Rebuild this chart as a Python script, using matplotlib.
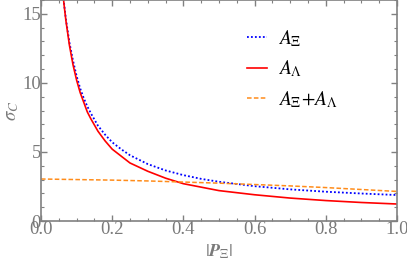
import numpy as np
import matplotlib
matplotlib.use("Agg")
import matplotlib.pyplot as plt
from matplotlib.ticker import MultipleLocator

# values
p_xi = [0.06, 0.065, 0.07, 0.08, 0.09, 0.10, 0.11, 0.12, 0.13, 0.14, 0.16, 0.18,
        0.20, 0.225, 0.25, 0.30, 0.35, 0.40, 0.45, 0.50, 0.60, 0.70, 0.80, 0.90, 1.00]
a_xi = [16.9, 15.7, 14.6, 12.9, 11.6, 10.5, 9.6, 8.9, 8.3, 7.8, 6.9, 6.25,
        5.7, 5.2, 4.76, 4.12, 3.66, 3.32, 3.05, 2.84, 2.52, 2.29, 2.12, 1.99, 1.88]
a_lam = [16.9, 15.6, 14.5, 12.7, 11.3, 10.2, 9.3, 8.6, 7.9, 7.4, 6.5, 5.8,
         5.2, 4.7, 4.2, 3.6, 3.1, 2.7, 2.45, 2.2, 1.9, 1.66, 1.48, 1.34, 1.23]
p_sum = [0.0, 0.1, 0.2, 0.3, 0.4, 0.5, 0.6, 0.7, 0.8, 0.9, 1.0]
a_sum = [3.04, 3.00, 2.96, 2.90, 2.82, 2.74, 2.64, 2.54, 2.42, 2.28, 2.14]

plt.rcParams["font.family"] = ["Liberation Serif", "DejaVu Serif"]
plt.rcParams["mathtext.fontset"] = "stix"

fig = plt.figure(figsize=(4.07, 2.64), dpi=100)
ax = fig.add_axes([41 / 407, 43 / 264, 356 / 407, 221 / 264])

ax.plot(p_xi, a_xi, color="#0000ff", ls=(0, (1, 1.2)), lw=1.3, label=r"$A_\Xi$")
ax.plot(p_xi, a_lam, color="#ff0000", lw=1.2, label=r"$A_\Lambda$")
ax.plot(p_sum, a_sum, color="#ff8c1a", ls=(0, (3, 1.5)), lw=1.1,
        label=r"$A_\Xi\!+\!A_\Lambda$")

ax.set_xlim(0, 1)
ax.set_ylim(0, 16)
ax.xaxis.set_major_locator(MultipleLocator(0.2))
ax.xaxis.set_minor_locator(MultipleLocator(0.05))
ax.yaxis.set_major_locator(MultipleLocator(5))
ax.yaxis.set_minor_locator(MultipleLocator(1))
ax.xaxis.set_major_formatter(plt.FuncFormatter(lambda v, p: "%.1f" % v))

gray = "#808080"
for s in ax.spines.values():
    s.set_color(gray)
    s.set_linewidth(1.2)
ax.tick_params(which="both", direction="in", top=True, right=True, colors=gray,
               labelcolor="#7a7a7a", labelsize=13.5, pad=0)
ax.tick_params(which="major", length=4, width=1)
ax.tick_params(which="minor", length=2, width=0.8)

ax.set_xlabel(r"$|\boldsymbol{P}_\Xi|$", color="#7a7a7a", fontsize=13, labelpad=3)
ax.set_ylabel(r"$\sigma_C$", color="#7a7a7a", fontsize=13.5, labelpad=1)

ax.legend(loc="upper left", frameon=False, fontsize=14, handlelength=1.05,
          labelspacing=0.5, borderpad=0, borderaxespad=0,
          bbox_to_anchor=(206 / 356, 1 - 28 / 221), handletextpad=0.55)

fig.savefig("out.png", dpi=100)
